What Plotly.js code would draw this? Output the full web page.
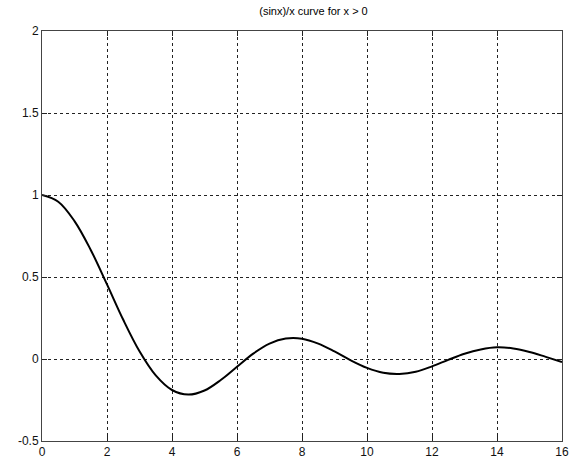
<!DOCTYPE html>
<html>
<head>
<meta charset="utf-8">
<script src="https://cdn.plot.ly/plotly-3.0.1.min.js"></script>
<style>html,body{margin:0;padding:0;background:#fff;}#chart{width:570px;height:462px;}</style>
</head>
<body>
<div id="chart"></div>
<script>
// values
const xValues = [0,0.5,1,1.5,2,2.5,3,3.5,4,4.5,5,5.5,6,6.5,7,7.5,8,8.5,9,9.5,10,10.5,11,11.5,12,12.5,13,13.5,14,14.5,15,15.5,16];
const yValues = [1,0.959,0.841,0.665,0.455,0.239,0.047,-0.100,-0.189,-0.217,-0.192,-0.128,-0.047,0.033,0.094,0.125,0.124,0.094,0.046,-0.008,-0.054,-0.084,-0.091,-0.078,-0.045,-0.005,0.032,0.058,0.071,0.064,0.043,0.013,-0.018];
const xTicks = [0,2,4,6,8,10,12,14,16];
const yTicks = [-0.5,0,0.5,1,1.5,2];
const titleText = "(sinx)/x curve for x > 0";

const axisCommon = {
  showline: true, mirror: 'ticks', linecolor: '#444', linewidth: 1,
  ticks: 'inside', ticklen: 5, tickcolor: '#222', tickwidth: 1,
  showgrid: true, gridcolor: '#222', gridwidth: 1, griddash: '3px,3px',
  zeroline: false, ticklabeloverflow: 'allow',
  tickfont: {family: 'Liberation Sans, Arial, sans-serif', size: 12, color: '#111'}
};

Plotly.newPlot('chart', [{
  x: xValues, y: yValues, type: 'scatter', mode: 'lines',
  line: {color: '#000', width: 2, shape: 'spline'}, hoverinfo: 'none'
}], {
  width: 570, height: 462,
  margin: {l: 42, r: 8, t: 31, b: 21},
  paper_bgcolor: '#fff', plot_bgcolor: '#fff',
  showlegend: false,
  title: {text: titleText, font: {family: 'Liberation Sans, Arial, sans-serif', size: 11, color: '#000'}, x: 0.55, xanchor: 'center', y: 0.985, yanchor: 'top'},
  xaxis: Object.assign({}, axisCommon, {range: [0,16], tickvals: xTicks, ticktext: xTicks.map(String)}),
  yaxis: Object.assign({}, axisCommon, {range: [-0.5,2], tickvals: yTicks, ticktext: yTicks.map(String)})
}, {staticPlot: true});
</script>
</body>
</html>
